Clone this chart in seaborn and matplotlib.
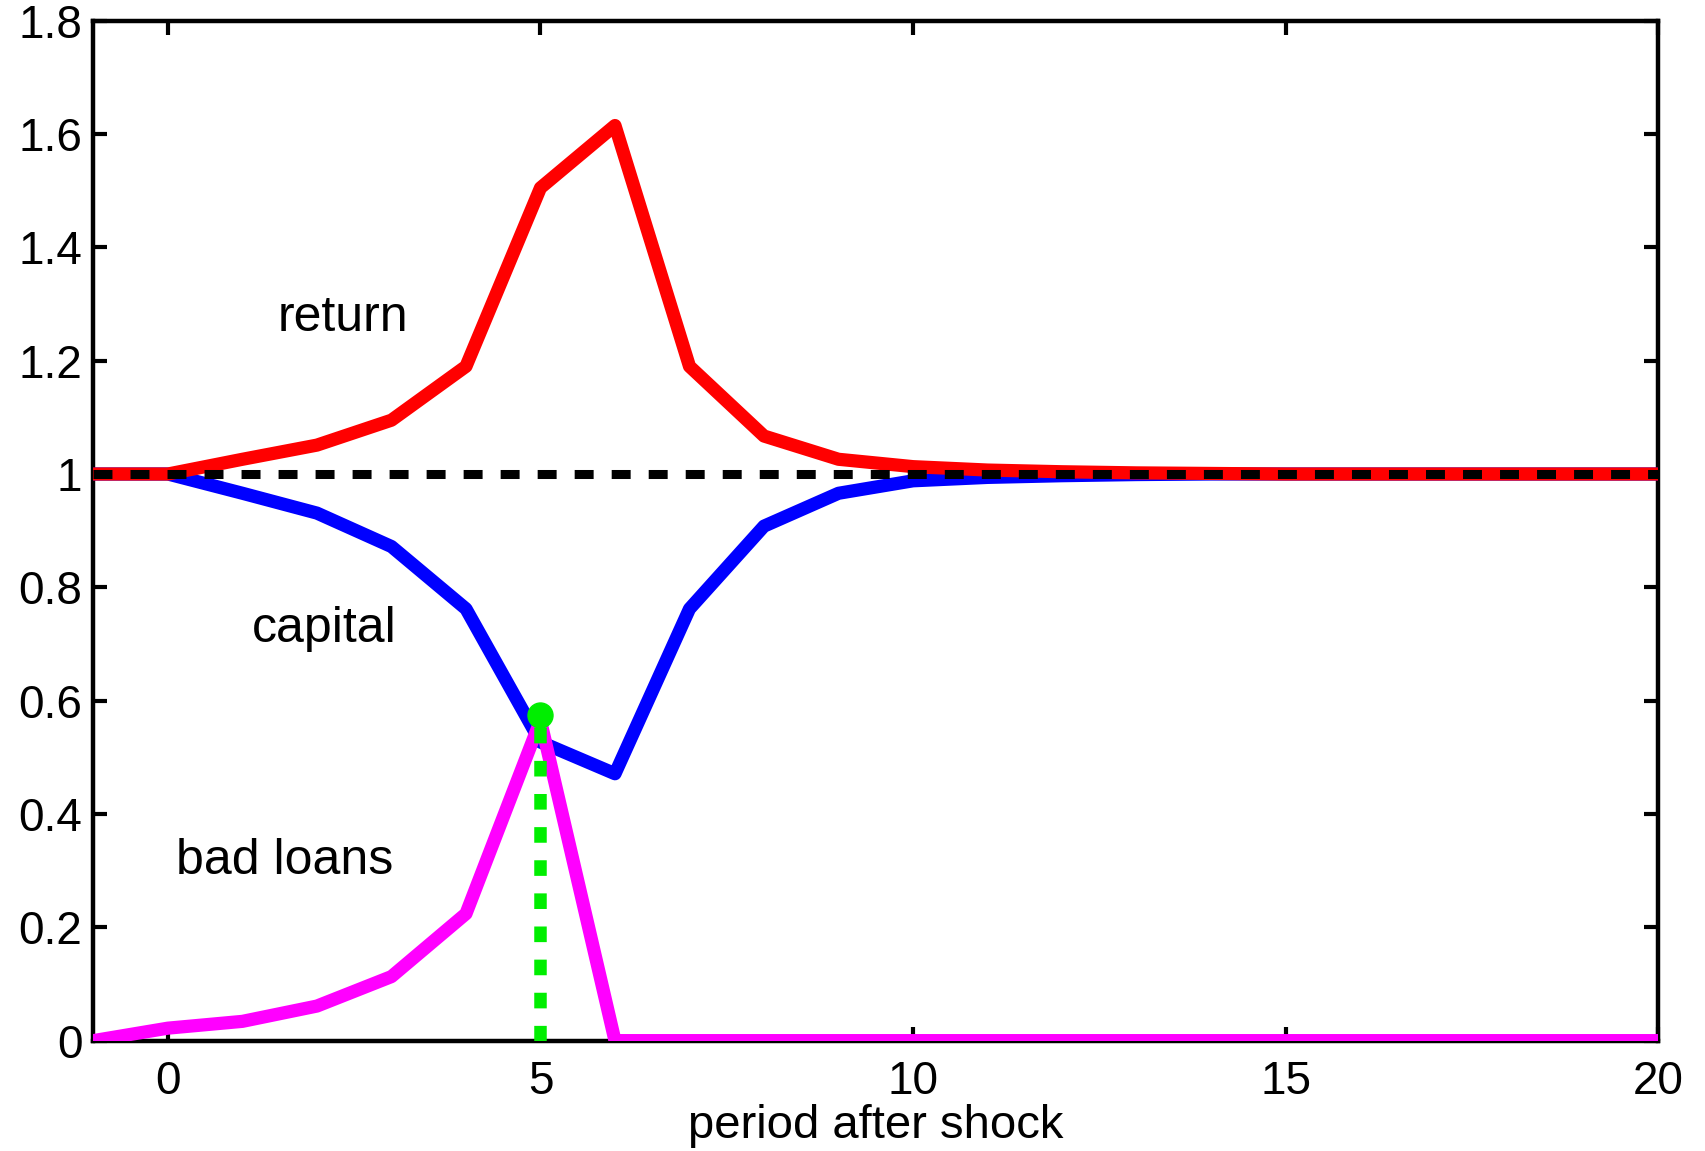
import numpy as np
import pandas as pd
import seaborn as sns
import matplotlib
matplotlib.use("Agg")
import matplotlib.pyplot as plt

# Impulse responses after the shock
periods = list(range(-1, 21))
return_vals = [1.0, 1.0, 1.026, 1.051, 1.095, 1.19, 1.505, 1.615, 1.19, 1.067, 1.026,
               1.013, 1.007, 1.004, 1.002, 1.001, 1.0, 1.0, 1.0, 1.0, 1.0, 1.0]
capital_vals = [1.0, 1.0, 0.966, 0.931, 0.872, 0.762, 0.527, 0.471, 0.762, 0.908, 0.966,
                0.988, 0.994, 0.997, 0.999, 1.0, 1.0, 1.0, 1.0, 1.0, 1.0, 1.0]
bad_loan_vals = [0.0, 0.022, 0.034, 0.061, 0.113, 0.224, 0.565, 0.0, 0.0, 0.0, 0.0,
                 0.0, 0.0, 0.0, 0.0, 0.0, 0.0, 0.0, 0.0, 0.0, 0.0, 0.0]
steady_state = [1.0] * len(periods)

# Crisis marker: period of peak bad loans
crisis_period = [5, 5]
crisis_level = [0.0, 0.575]

series_labels = {"return": (1.47, 1.253), "capital": (1.13, 0.703), "bad loans": (0.11, 0.294)}

x_ticks = [0, 5, 10, 15, 20]
y_ticks = [0, 0.2, 0.4, 0.6, 0.8, 1, 1.2, 1.4, 1.6, 1.8]
y_tick_labels = ["0", "0.2", "0.4", "0.6", "0.8", "1", "1.2", "1.4", "1.6", "1.8"]

df = pd.DataFrame({"period": periods, "return": return_vals, "capital": capital_vals,
                   "bad loans": bad_loan_vals, "steady": steady_state})
crisis = pd.DataFrame({"period": crisis_period, "level": crisis_level})

sns.set_theme(style="white")
plt.rcParams["font.family"] = ["Liberation Sans", "DejaVu Sans"]

fig = plt.figure(figsize=(17.05, 11.51), dpi=100)
ax = fig.add_axes([0.0548, 0.0959, 0.9177, 0.8861])

lw = 9.5
sns.lineplot(data=df, x="period", y="capital", color="#0000ff", linewidth=lw, ax=ax, zorder=2)
sns.lineplot(data=df, x="period", y="return", color="#ff0000", linewidth=lw, ax=ax, zorder=3)
sns.lineplot(data=df, x="period", y="bad loans", color="#ff00ff", linewidth=lw, ax=ax, zorder=3)
steady_line = sns.lineplot(data=df, x="period", y="steady", color="black", linewidth=6.5,
                           ax=ax, zorder=4).lines[-1]
steady_line.set_dashes([2.1, 2.0])

crisis_line = sns.lineplot(data=crisis, x="period", y="level", color="#00ee00", linewidth=9,
                           estimator=None, sort=False, errorbar=None, ax=ax,
                           zorder=5).lines[-1]
crisis_line.set_dashes([1.25, 1.4])
ax.plot(crisis_period[-1:], crisis_level[-1:], "o", color="#00ee00", markersize=18,
        zorder=6)

for text, (tx, ty) in series_labels.items():
    ax.text(tx, ty, text, fontsize=36, ha="left", va="baseline", color="black")

ax.set_xlim(-1, 20)
ax.set_ylim(0, 1.8)
ax.set_xticks(x_ticks)
ax.set_xticklabels([str(t) for t in x_ticks])
ax.set_yticks(y_ticks)
ax.set_yticklabels(y_tick_labels)
ax.set_xlabel("period after shock", fontsize=34, labelpad=0, color="black")
ax.set_ylabel("")

ax.tick_params(axis="both", direction="in", length=10, width=3, colors="black",
               labelsize=33, top=True, right=True, bottom=True, left=True)
ax.tick_params(axis="x", pad=14)
ax.tick_params(axis="y", pad=8)
for sp in ax.spines.values():
    sp.set_visible(True)
    sp.set_linewidth(3.2)
    sp.set_color("black")
    sp.set_zorder(1)

fig.savefig("out.png", dpi=100, facecolor="white")
